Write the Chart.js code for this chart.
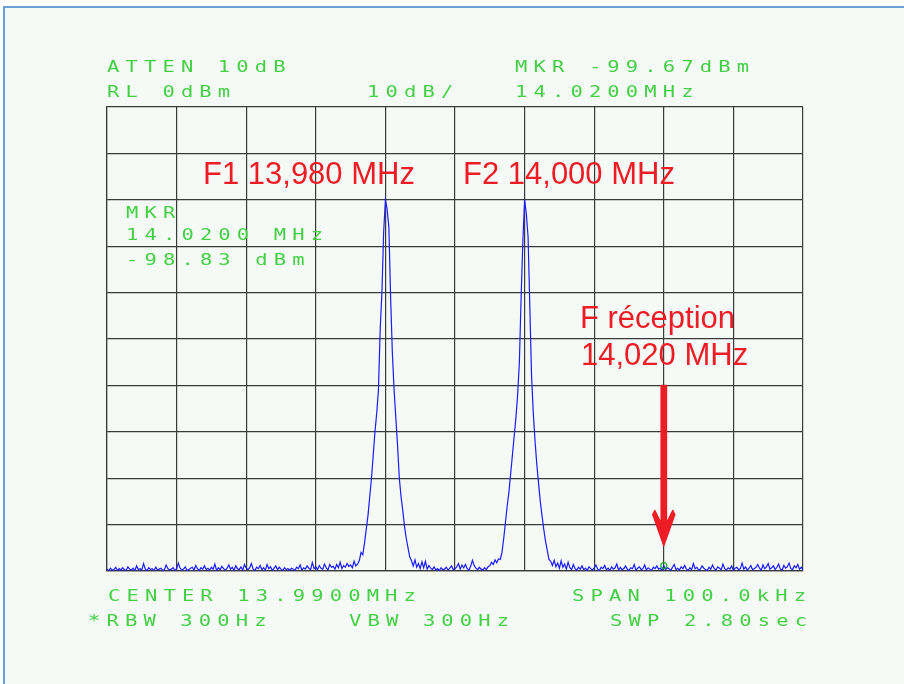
<!DOCTYPE html>
<html>
<head>
<meta charset="utf-8">
<script src="https://cdn.jsdelivr.net/npm/chart.js@4"></script>
<style>
  body { margin: 0; background: #ffffff; }
  #frame {
    position: absolute; left: 3px; top: 6px; width: 910px; height: 690px;
    border-left: 2px solid #6aa2d8; border-top: 2px solid #6aa2d8;
    background: #f5faf7;
  }
  #wrap { position: absolute; left: 0; top: 0; width: 904px; height: 684px; }
</style>
</head>
<body>
<div id="frame"></div>
<div id="wrap"><canvas id="spectrum" width="904" height="684"></canvas></div>
<script>
// sweep: 401 points, 0.25 kHz apart
const freqStart = 13.94;
const freqStop = 14.04;
const freqStep = 0.00025;

// trace segments in dBm, each with its starting frequency (MHz)
const floorLeftStart = 13.94;
const floorLeft = [
    -99.6, -99.9, -99.4, -99.8, -99.7, -99.2, -99.9, -99.5, -99.8, -99.3,
    -99.7, -99.9, -99.1, -99.6, -99.8, -99.4, -99.9, -98.9, -99.7, -99.5,
    -99.8, -98.4, -99.6, -99.9, -99.3, -99.7, -99.5, -99.9, -99.2, -99.8,
    -99.6, -99.4, -99.9, -99.7, -98.7, -99.5, -99.8, -99.6, -99.3, -99.9,
    -99.5, -98.3, -99.4, -99.8, -99.6, -99.1, -99.9, -99.7, -99.4, -99.2,
    -99.8, -98.8, -99.5, -99.9, -99.3, -99.6, -98.9, -99.7, -99.4, -99.8,
    -99.2, -99.6, -98.5, -99.9, -99.3, -99.7, -99.0, -99.5, -99.8, -99.4,
    -98.7, -99.6, -99.2, -99.9, -98.9, -99.5, -99.7, -99.1, -99.8, -98.6,
    -99.4, -99.7, -99.3, -98.4, -99.6, -99.9, -99.2, -99.5, -98.8, -99.7,
    -99.3, -99.8, -98.6, -99.5, -99.1, -99.9, -99.4, -98.9, -99.7, -99.2,
    -99.6, -99.9, -99.3, -99.7, -99.5, -99.8, -99.4, -99.6, -99.9, -99.2,
    -99.5, -98.7, -99.8, -99.3, -99.6, -98.9, -99.4, -99.7, -98.2, -99.5,
    -99.1, -99.7, -98.8, -99.4, -99.6, -98.5, -99.3, -99.8, -98.6, -99.2,
    -99.0, -99.6, -98.6, -99.3, -98.1, -99.5, -98.8, -99.2, -98.4, -99.0,
    -98.7, -99.3, -97.9, -98.9, -98.5, -97.8
];

const f1PeakStart = 13.9765;
const f1Peak = [
    -96.0, -96.5, -94.0, -91.0, -88.0, -84.0, -80.0, -75.0, -70.0, -66.0,
    -61.0, -48.0, -40.0, -27.0, -20.0, -22.0, -26.0, -41.0, -53.0, -61.0,
    -67.0, -73.0, -80.0, -84.0, -87.0, -90.5, -93.0, -95.0, -97.0
];

const floorMidStart = 13.98375;
const floorMid = [
    -97.8, -98.9, -97.6, -99.2, -98.4, -99.5, -98.0, -99.3, -97.9, -99.6,
    -98.8, -99.4, -99.7, -99.1, -99.8, -99.5, -99.9, -99.3, -99.7, -99.6,
    -99.2, -99.8, -99.4, -98.9, -99.7, -99.5, -99.1, -98.4, -99.6, -98.7,
    -99.3, -98.6, -99.5, -99.8, -99.0, -97.7, -98.8, -99.4, -99.7, -99.2,
    -99.6, -99.8, -99.3, -99.7, -99.1, -98.9, -98.1, -98.6, -97.6, -98.2,
    -97.4
];

const f2PeakStart = 13.9965;
const f2Peak = [
    -97.5, -96.0, -93.0, -89.5, -86.0, -83.0, -79.0, -75.0, -71.0, -67.0,
    -62.0, -55.0, -41.0, -29.0, -20.0, -23.0, -28.0, -43.0, -58.0, -66.0,
    -72.0, -77.0, -81.0, -85.0, -88.0, -91.0, -93.5, -95.5, -97.5
];

const floorRightStart = 14.00375;
const floorRight = [
    -97.9, -98.8, -97.7, -99.1, -98.3, -99.4, -97.8, -99.2, -98.5, -99.6,
    -98.1, -99.3, -99.7, -98.6, -99.5, -99.8, -99.2, -99.6, -98.9, -99.7,
    -99.4, -99.9, -99.1, -99.5, -99.8, -99.3, -98.7, -99.6, -99.9, -99.2,
    -99.5, -98.8, -99.7, -99.4, -99.9, -99.1, -99.6, -99.3, -98.5, -99.8,
    -99.2, -99.7, -99.5, -98.9, -99.6, -99.9, -99.3, -99.5, -98.6, -99.8,
    -99.4, -99.1, -99.7, -99.5, -98.7, -99.8, -99.3, -99.6, -99.9, -99.2,
    -99.5, -98.9, -99.6, -99.4, -99.8, -98.83, -99.7, -99.3, -99.5, -99.9,
    -99.2, -98.6, -99.7, -99.4, -99.8, -99.1, -99.5, -98.8, -99.6, -99.9,
    -99.3, -99.7, -98.4, -99.5, -99.2, -99.8, -99.6, -98.9, -99.4, -99.7,
    -99.9, -99.2, -99.6, -98.7, -99.5, -99.8, -99.1, -99.4, -99.7, -98.5,
    -99.5, -99.8, -99.3, -99.6, -98.9, -99.9, -99.4, -99.2, -99.7, -99.5,
    -98.3, -99.6, -99.1, -99.8, -99.4, -98.8, -99.7, -99.5, -99.2, -98.6,
    -99.4, -99.8, -98.7, -99.5, -99.1, -98.4, -99.6, -99.3, -98.9, -99.7,
    -99.2, -98.5, -99.6, -99.8, -98.8, -99.4, -99.1, -98.3, -99.5, -99.7,
    -98.9, -99.3, -98.6, -99.6, -99.2, -99.8
];

// marker
const markerFreq = 14.02;
const markerLevel = -98.83;

// amplitude axis: RL 0 dBm, 10 dB/div
const refLevel = 0;
const bottomLevel = -100;

// screen annotations
const headerLeft = ['ATTEN 10dB', 'RL 0dBm'];
const headerScale = '10dB/';
const headerMarker = ['MKR -99.67dBm', '14.0200MHz'];
const markerBox = ['MKR', '14.0200 MHz', '-98.83 dBm'];
const footerLeft = ['CENTER 13.9900MHz', '*RBW 300Hz'];
const footerVbw = 'VBW 300Hz';
const footerRight = ['SPAN 100.0kHz', 'SWP 2.80sec'];
const toneLabels = ['F1 13,980 MHz', 'F2 14,000 MHz'];
const rxLabel = ['F réception', '14,020 MHz'];

function segment(start, values) {
    return values.map((v, i) => ({ x: start + i * freqStep, y: v }));
}

const tracePoints = [].concat(
    segment(floorLeftStart, floorLeft),
    segment(f1PeakStart, f1Peak),
    segment(floorMidStart, floorMid),
    segment(f2PeakStart, f2Peak),
    segment(floorRightStart, floorRight)
);

const GREEN = '#44cf44';
const RED = '#ee1c25';

// wide, spaced-out lettering like the analyser's vector font
function screenLine(ctx, text, x, y) {
    ctx.save();
    ctx.translate(x, y);
    ctx.scale(1.28, 1);
    ctx.fillText(text, 0, 0);
    ctx.restore();
}

const screenText = {
    id: 'screenText',
    afterDatasetsDraw(chart) {
        const { ctx, chartArea: a, scales: { x, y } } = chart;
        ctx.save();

        // green readouts
        ctx.fillStyle = GREEN;
        ctx.font = '16px "DejaVu Sans Mono"';
        ctx.letterSpacing = '4.8px';
        ctx.textBaseline = 'alphabetic';
        ctx.textAlign = 'left';
        screenLine(ctx, headerLeft[0], a.left, a.top - 35);
        screenLine(ctx, headerLeft[1], a.left, a.top - 10);
        screenLine(ctx, headerScale, a.left + 260, a.top - 10);
        screenLine(ctx, headerMarker[0], a.left + 408, a.top - 35);
        screenLine(ctx, headerMarker[1], a.left + 408, a.top - 10);
        screenLine(ctx, markerBox[0], a.left + 19, 218);
        screenLine(ctx, markerBox[1], a.left + 19, 240);
        screenLine(ctx, markerBox[2], a.left + 19, 265);
        screenLine(ctx, footerLeft[0], a.left + 1, a.bottom + 30);
        screenLine(ctx, footerLeft[1], a.left - 19, a.bottom + 55);
        screenLine(ctx, footerVbw, a.left + 242, a.bottom + 55);
        screenLine(ctx, footerRight[0], a.right - 231, a.bottom + 30);
        screenLine(ctx, footerRight[1], a.right - 193, a.bottom + 55);
        ctx.letterSpacing = '0px';

        // red notes
        ctx.fillStyle = RED;
        ctx.font = '31px "Liberation Sans", Arial, sans-serif';
        ctx.fillText(toneLabels[0], 203, 184);
        ctx.fillText(toneLabels[1], 463, 184);
        ctx.fillText(rxLabel[0], 580, 328);
        ctx.fillText(rxLabel[1], 581, 365);

        // arrow down to the receive frequency
        const ax = x.getPixelForValue(markerFreq);
        const top = y.getPixelForValue(-60);
        const tip = y.getPixelForValue(-94.5);
        ctx.beginPath();
        ctx.moveTo(ax - 2.6, top);
        ctx.lineTo(ax + 2.6, top);
        ctx.lineTo(ax + 2.6, tip - 22);
        ctx.lineTo(ax + 9, tip - 35);
        ctx.lineTo(ax + 11, tip - 31);
        ctx.lineTo(ax, tip);
        ctx.lineTo(ax - 11, tip - 31);
        ctx.lineTo(ax - 9, tip - 35);
        ctx.lineTo(ax - 2.6, tip - 22);
        ctx.closePath();
        ctx.lineJoin = 'round';
        ctx.lineWidth = 1.5;
        ctx.strokeStyle = RED;
        ctx.stroke();
        ctx.fill();

        ctx.restore();
    }
};

new Chart(document.getElementById('spectrum'), {
    type: 'line',
    data: {
        datasets: [
            {
                label: 'trace',
                data: tracePoints,
                borderColor: '#1c1cff',
                borderWidth: 1.2,
                pointRadius: 0,
                tension: 0,
                order: 2,
            },
            {
                label: 'marker',
                data: [{ x: markerFreq, y: markerLevel }],
                borderColor: '#1fae2a',
                backgroundColor: 'rgba(0,0,0,0)',
                borderWidth: 1.2,
                pointRadius: 3,
                showLine: false,
                order: 1,
            },
        ],
    },
    options: {
        responsive: false,
        animation: false,
        devicePixelRatio: 1,
        layout: { padding: { left: 107, top: 107, right: 101, bottom: 113 } },
        plugins: { legend: { display: false }, tooltip: { enabled: false } },
        scales: {
            x: {
                type: 'linear',
                min: freqStart,
                max: freqStop,
                ticks: { display: false, count: 11 },
                grid: { color: '#3a3a3a', lineWidth: 1.2, drawTicks: false },
                border: { color: '#3a3a3a', width: 1.2 },
            },
            y: {
                min: bottomLevel,
                max: refLevel,
                ticks: { display: false, count: 11 },
                grid: { color: '#3a3a3a', lineWidth: 1.2, drawTicks: false },
                border: { color: '#3a3a3a', width: 1.2 },
            },
        },
    },
    plugins: [screenText],
});
</script>
</body>
</html>
